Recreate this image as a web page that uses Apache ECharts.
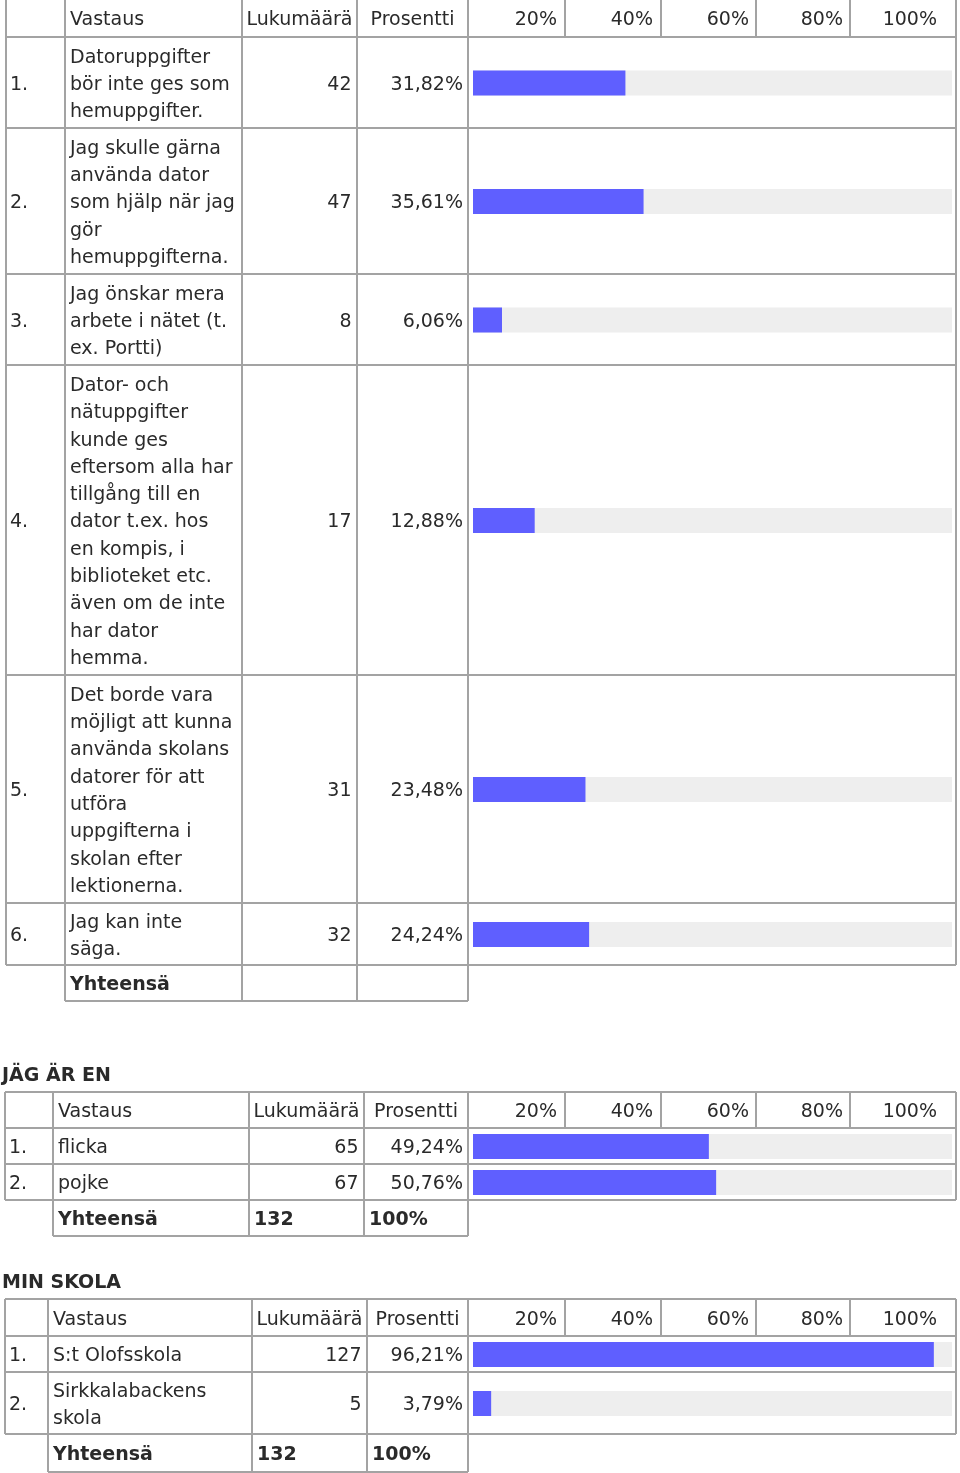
<!DOCTYPE html>
<html>
<head>
<meta charset="utf-8">
<script src="https://cdn.jsdelivr.net/npm/echarts@6/dist/echarts.min.js"></script>
<style>
html,body{margin:0;padding:0;background:#fff;}
#c{width:960px;height:1473px;}
</style>
</head>
<body>
<div id="c"></div>
<script>
// ---------- DATA ----------
const headers = ['Vastaus', 'Lukumäärä', 'Prosentti'];
const scaleLabels = ['20%', '40%', '60%', '80%', '100%'];
const totalLabel = 'Yhteensä';

const q1Answers = [
  'Datoruppgifter\nbör inte ges som\nhemuppgifter.',
  'Jag skulle gärna\nanvända dator\nsom hjälp när jag\ngör\nhemuppgifterna.',
  'Jag önskar mera\narbete i nätet (t.\nex. Portti)',
  'Dator- och\nnätuppgifter\nkunde ges\neftersom alla har\ntillgång till en\ndator t.ex. hos\nen kompis, i\nbiblioteket etc.\näven om de inte\nhar dator\nhemma.',
  'Det borde vara\nmöjligt att kunna\nanvända skolans\ndatorer för att\nutföra\nuppgifterna i\nskolan efter\nlektionerna.',
  'Jag kan inte\nsäga.'
];
const q1Counts = [42, 47, 8, 17, 31, 32];
const q1Percents = [31.82, 35.61, 6.06, 12.88, 23.48, 24.24];
const q1Totals = ['', ''];

const genderTitle = 'JÄG ÄR EN';
const genderAnswers = ['flicka', 'pojke'];
const genderCounts = [65, 67];
const genderPercents = [49.24, 50.76];
const genderTotals = ['132', '100%'];

const schoolTitle = 'MIN SKOLA';
const schoolAnswers = ['S:t Olofsskola', 'Sirkkalabackens\nskola'];
const schoolCounts = [127, 5];
const schoolPercents = [96.21, 3.79];
const schoolTotals = ['132', '100%'];

// ---------- LAYOUT ----------
const FS = 19;
const LH = 27.3;
const TXT = '#2a2a2a';
const LINE = '#a3a3a3';
const BAR = '#5f5fff';
const BARBG = '#eeeeee';
const scaleX = [557, 653, 749, 843, 937];
const scaleCols = [565, 661, 756, 850];
const TY = 2.5; // text baseline offset

const tables = [
  { answers: q1Answers, counts: q1Counts, percents: q1Percents, totals: q1Totals,
    cols: [6, 65, 242, 357, 468, 956], rows: [-4, 37, 128, 274, 365, 675, 903, 965], totalBottom: 1001, headY: 20 },
  { title: genderTitle, titleY: 1076, answers: genderAnswers, counts: genderCounts, percents: genderPercents, totals: genderTotals,
    cols: [5, 53, 249, 364, 468, 956], rows: [1092, 1128, 1164, 1200], totalBottom: 1236 },
  { title: schoolTitle, titleY: 1283, answers: schoolAnswers, counts: schoolCounts, percents: schoolPercents, totals: schoolTotals,
    cols: [5, 48, 252, 367, 468, 956], rows: [1299, 1336, 1372, 1434], totalBottom: 1472 }
];

const fmtPct = v => v.toFixed(2).replace('.', ',') + '%';

const graphics = [];
const grids = [], xAxes = [], yAxes = [], series = [];

function hline(x1, x2, y) {
  graphics.push({ type: 'line', silent: true, shape: { x1, y1: y, x2, y2: y }, style: { stroke: LINE, lineWidth: 2 } });
}
function vline(x, y1, y2) {
  graphics.push({ type: 'line', silent: true, shape: { x1: x, y1, x2: x, y2 }, style: { stroke: LINE, lineWidth: 2 } });
}
function text(str, x, y, align, bold) {
  graphics.push({
    type: 'text', silent: true, x: 0, y: 0,
    style: {
      text: str, x, y,
      fontFamily: 'DejaVu Sans', fontSize: FS, fontWeight: bold ? 'bold' : 'normal',
      fill: TXT, align: align, textAlign: align, verticalAlign: 'middle', textVerticalAlign: 'middle',
      lineHeight: LH
    }
  });
}

tables.forEach(t => {
  const c = t.cols, r = t.rows;
  const top = r[0], hb = r[1], dataEnd = r[r.length - 1];
  if (t.title) text(t.title, 2, t.titleY, 'left', true);
  // grid lines
  r.forEach(y => hline(c[0], c[5], y));
  c.forEach(x => vline(x, top, dataEnd));
  scaleCols.forEach(x => vline(x, top, hb));
  hline(c[1], c[4], t.totalBottom);
  [1, 2, 3, 4].forEach(i => vline(c[i], dataEnd, t.totalBottom));
  // header
  const hy = t.headY !== undefined ? t.headY : (top + hb) / 2 + TY;
  text(headers[0], c[1] + 5, hy, 'left');
  text(headers[1], (c[2] + c[3]) / 2, hy, 'center');
  text(headers[2], (c[3] + c[4]) / 2, hy, 'center');
  scaleLabels.forEach((s, i) => text(s, scaleX[i], hy, 'right'));
  // data rows
  t.answers.forEach((a, i) => {
    const y0 = r[i + 1], y1 = r[i + 2];
    const cy = (y0 + y1) / 2;
    const ty = cy + TY;
    text((i + 1) + '.', c[0] + 4, ty, 'left');
    text(a, c[1] + 5, ty, 'left');
    text(String(t.counts[i]), c[3] - 5.5, ty, 'right');
    text(fmtPct(t.percents[i]), c[4] - 5, ty, 'right');
    const gi = grids.length;
    grids.push({ left: c[4] + 5, top: cy - 12, width: 479, height: 25 });
    xAxes.push({ type: 'value', gridIndex: gi, min: 0, max: 100, show: false });
    yAxes.push({ type: 'category', gridIndex: gi, data: [a], show: false });
    series.push({
      type: 'bar', xAxisIndex: gi, yAxisIndex: gi, data: [t.percents[i]],
      barWidth: 25, silent: true,
      itemStyle: { color: BAR },
      showBackground: true, backgroundStyle: { color: BARBG }
    });
  });
  // total row
  const ty = (dataEnd + t.totalBottom) / 2 + TY;
  text(totalLabel, c[1] + 5, ty, 'left', true);
  if (t.totals[0]) text(t.totals[0], c[2] + 5, ty, 'left', true);
  if (t.totals[1]) text(t.totals[1], c[3] + 5, ty, 'left', true);
});

const chart = echarts.init(document.getElementById('c'), null, { renderer: 'canvas' });
chart.setOption({
  backgroundColor: '#ffffff',
  animation: false,
  grid: grids,
  xAxis: xAxes,
  yAxis: yAxes,
  series: series,
  graphic: { elements: graphics }
});
</script>
</body>
</html>
